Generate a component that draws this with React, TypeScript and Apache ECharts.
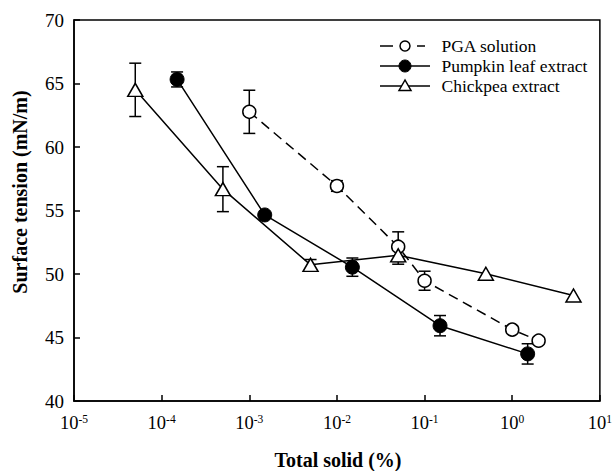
import React, { useEffect, useRef } from "react";
import * as echarts from "echarts";

const pgaX = [0.001, 0.01, 0.05, 0.1, 1, 2];
const pgaY = [62.77, 56.93, 52.15, 49.47, 45.62, 44.75];
const pgaErr = [1.7, 0.42, 1.17, 0.75, 0, 0];

const pumpkinX = [0.00015, 0.0015, 0.015, 0.15, 1.5];
const pumpkinY = [65.32, 54.65, 50.54, 45.93, 43.71];
const pumpkinErr = [0.59, 0, 0.72, 0.8, 0.8];

const chickpeaX = [0.00005, 0.0005, 0.005, 0.05, 0.5, 5];
const chickpeaY = [64.5, 56.68, 50.72, 51.47, 50.02, 48.31];
const chickpeaErr = [2.1, 1.77, 0.42, 0.7, 0, 0];

const legendNames = ["PGA solution", "Pumpkin leaf extract", "Chickpea extract"];
const xTitle = "Total solid (%)";
const yTitle = "Surface tension (mN/m)";

const FONT = "Liberation Serif";

export default function App() {
  const ref = useRef<HTMLDivElement>(null);
  useEffect(() => {
    const chart = echarts.init(ref.current!, null, { renderer: "svg" });
    const pairs = (xs: number[], ys: number[]) => xs.map((x, i) => [x, ys[i]]);
    const triples = (xs: number[], ys: number[], es: number[]) =>
      xs.map((x, i) => [x, ys[i], es[i]]).filter((d) => d[2] > 0);
    const stroke = { stroke: "#000", lineWidth: 1.5 };
    const errSeries = (data: number[][]) => ({
      type: "custom",
      z: 1,
      silent: true,
      data,
      encode: { x: 0, y: 1 },
      renderItem: (params: any, api: any) => {
        const x = api.value(0);
        const y = api.value(1);
        const e = api.value(2);
        const t = api.coord([x, y + e]);
        const b = api.coord([x, y - e]);
        const hw = 6;
        return {
          type: "group",
          children: [
            { type: "line", shape: { x1: t[0], y1: t[1], x2: b[0], y2: b[1] }, style: stroke },
            { type: "line", shape: { x1: t[0] - hw, y1: t[1], x2: t[0] + hw, y2: t[1] }, style: stroke },
            { type: "line", shape: { x1: b[0] - hw, y1: b[1], x2: b[0] + hw, y2: b[1] }, style: stroke },
          ],
        };
      },
    });
    const rowY = [46, 66, 86];
    const lx0 = 380;
    const lx1 = 430;
    const sx = 405;
    const legendGraphics: any[] = [
      { type: "line", shape: { x1: lx0, y1: rowY[0], x2: 393, y2: rowY[0] }, style: stroke },
      { type: "line", shape: { x1: 417, y1: rowY[0], x2: 425, y2: rowY[0] }, style: stroke },
      { type: "circle", shape: { cx: sx, cy: rowY[0], r: 5 }, style: { fill: "#fff", stroke: "#000", lineWidth: 1.5 } },
      { type: "line", shape: { x1: lx0, y1: rowY[1], x2: lx1, y2: rowY[1] }, style: stroke },
      { type: "circle", shape: { cx: sx, cy: rowY[1], r: 6 }, style: { fill: "#000", stroke: "#000", lineWidth: 1 } },
      { type: "line", shape: { x1: lx0, y1: rowY[2], x2: lx1, y2: rowY[2] }, style: stroke },
      {
        type: "polygon",
        shape: { points: [[sx, rowY[2] - 6], [sx - 6, rowY[2] + 4.5], [sx + 6, rowY[2] + 4.5]] },
        style: { fill: "#fff", stroke: "#000", lineWidth: 1.5 },
      },
      ...legendNames.map((n, i) => ({
        type: "text",
        x: 441.5,
        y: rowY[i],
        style: { text: n, fontFamily: FONT, fontSize: 17.5, fill: "#000", verticalAlign: "middle" },
      })),
      {
        type: "text",
        x: 20,
        y: 192,
        rotation: Math.PI / 2,
        style: {
          text: yTitle,
          fontFamily: FONT,
          fontSize: 20,
          fontWeight: "bold",
          fill: "#000",
          align: "center",
          verticalAlign: "middle",
        },
      },
      {
        type: "text",
        x: 338,
        y: 460,
        style: {
          text: xTitle,
          fontFamily: FONT,
          fontSize: 20,
          fontWeight: "bold",
          fill: "#000",
          align: "center",
          verticalAlign: "middle",
        },
      },
    ];
    const option: any = {
      animation: false,
      backgroundColor: "#fff",
      grid: { left: 74, right: 13, top: 20, bottom: 70, show: true, borderColor: "#000", borderWidth: 1.5 },
      xAxis: {
        type: "log",
        logBase: 10,
        min: 0.00001,
        max: 10,
        axisLine: { lineStyle: { color: "#000", width: 1.5 } },
        axisTick: { inside: true, length: 6, lineStyle: { color: "#000", width: 1.5 } },
        minorTick: { show: false },
        splitLine: { show: false },
        axisLabel: {
          margin: 12,
          color: "#000",
          formatter: (v: number) => {
            const p = Math.round(Math.log10(v));
            return `{b|10}{s|${p}}`;
          },
          rich: {
            b: { fontFamily: FONT, fontSize: 18.5, color: "#000", verticalAlign: "bottom", lineHeight: 19 },
            s: { fontFamily: FONT, fontSize: 11.5, color: "#000", verticalAlign: "top", lineHeight: 11, padding: [0, 0, 8, 0] },
          },
        },
      },
      yAxis: {
        type: "value",
        min: 40,
        max: 70,
        interval: 5,
        axisLine: { show: true, lineStyle: { color: "#000", width: 1.5 } },
        axisTick: { inside: true, length: 6, lineStyle: { color: "#000", width: 1.5 } },
        splitLine: { show: false },
        axisLabel: { margin: 10, color: "#000", fontFamily: FONT, fontSize: 19 },
      },
      graphic: legendGraphics,
      series: [
        errSeries(triples(pgaX, pgaY, pgaErr)),
        errSeries(triples(pumpkinX, pumpkinY, pumpkinErr)),
        errSeries(triples(chickpeaX, chickpeaY, chickpeaErr)),
        {
          type: "line",
          name: legendNames[0],
          z: 3,
          data: pairs(pgaX, pgaY),
          symbol: "circle",
          symbolSize: 13,
          lineStyle: { color: "#000", width: 1.5, type: [10, 6] },
          itemStyle: { color: "#fff", borderColor: "#000", borderWidth: 1.5 },
        },
        {
          type: "line",
          name: legendNames[1],
          z: 3,
          data: pairs(pumpkinX, pumpkinY),
          symbol: "circle",
          symbolSize: 14,
          lineStyle: { color: "#000", width: 1.5 },
          itemStyle: { color: "#000", borderColor: "#000", borderWidth: 1 },
        },
        {
          type: "line",
          name: legendNames[2],
          z: 3,
          data: pairs(chickpeaX, chickpeaY),
          symbol: "triangle",
          symbolSize: [15, 13],
          lineStyle: { color: "#000", width: 1.5 },
          itemStyle: { color: "#fff", borderColor: "#000", borderWidth: 1.5 },
        },
      ],
    };
    chart.setOption(option);
    return () => chart.dispose();
  }, []);
  return (
    <div
      ref={ref}
      style={{ position: "fixed", left: 0, top: 0, width: 615, height: 471, background: "#fff" }}
    />
  );
}
